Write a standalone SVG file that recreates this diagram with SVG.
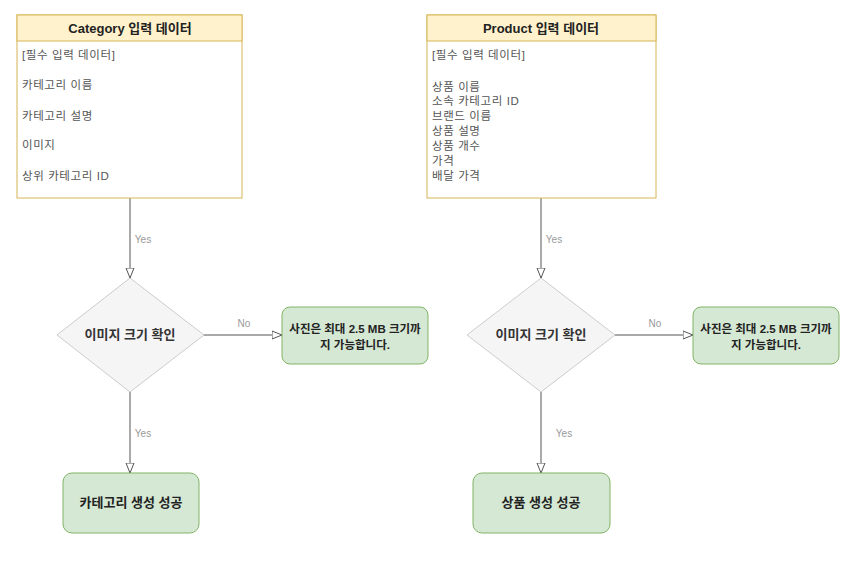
<svg xmlns="http://www.w3.org/2000/svg" width="863" height="582" viewBox="0 0 863 582">
<style>
text{font-family:"Liberation Sans","Noto Sans CJK KR",sans-serif}
.hdr{fill:#fff2cc;stroke:#d6b656;stroke-width:1}
.body{fill:#ffffff;stroke:#d6b656;stroke-width:1}
.ht{font-size:13px;font-weight:bold;fill:#222;text-anchor:middle}
.bt{font-size:11.5px;fill:#555;letter-spacing:0.6px}
.dia{fill:#f5f5f5;stroke:#cccccc;stroke-width:1}
.dt{font-size:13px;font-weight:bold;fill:#333;text-anchor:middle}
.grn{fill:#d5e8d4;stroke:#82b366;stroke-width:1}
.gt{font-size:11.5px;font-weight:bold;fill:#222;text-anchor:middle}
.gt2{font-size:13px;font-weight:bold;fill:#222;text-anchor:middle}
.edge{stroke:#555;stroke-width:1;fill:none;marker-end:url(#arr)}
.lbl{font-size:10px;fill:#999;text-anchor:middle}
</style>
<defs>
<marker id="arr" viewBox="0 0 10 10" refX="10" refY="5" markerWidth="10" markerHeight="10" markerUnits="userSpaceOnUse" orient="auto">
<path d="M0,1 L10,5 L0,9 Z" fill="#fff" stroke="#555" stroke-width="1"/>
</marker>
</defs>
<rect width="863" height="582" fill="#fff"/>
<g id="edges">
<line class="edge" x1="130" y1="198" x2="130" y2="278"/>
<line class="edge" x1="204" y1="335" x2="282" y2="335"/>
<line class="edge" x1="130" y1="392" x2="130" y2="473"/>
<line class="edge" x1="541" y1="198" x2="541" y2="278"/>
<line class="edge" x1="615" y1="335" x2="693" y2="335"/>
<line class="edge" x1="541" y1="392" x2="541" y2="473"/>
<text class="lbl" x="143" y="243">Yes</text>
<text class="lbl" x="244" y="327">No</text>
<text class="lbl" x="143" y="437">Yes</text>
<text class="lbl" x="554" y="243">Yes</text>
<text class="lbl" x="655" y="327">No</text>
<text class="lbl" x="564" y="437">Yes</text>
</g>
<g id="category">
<rect class="body" x="17" y="15" width="225" height="183"/>
<rect class="hdr" x="17" y="15" width="225" height="26"/>
<text class="ht" x="130" y="33">Category 입력 데이터</text>
<text class="bt" x="22" y="59">[필수 입력 데이터]</text>
<text class="bt" x="22" y="89">카테고리 이름</text>
<text class="bt" x="22" y="120">카테고리 설명</text>
<text class="bt" x="22" y="149">이미지</text>
<text class="bt" x="22" y="180">상위 카테고리 ID</text>
</g>
<g id="product">
<rect class="body" x="427" y="15" width="229" height="183"/>
<rect class="hdr" x="427" y="15" width="229" height="26"/>
<text class="ht" x="541" y="33">Product 입력 데이터</text>
<text class="bt" x="432" y="59">[필수 입력 데이터]</text>
<text class="bt" x="432" y="91">상품 이름</text>
<text class="bt" x="432" y="105">소속 카테고리 ID</text>
<text class="bt" x="432" y="120">브랜드 이름</text>
<text class="bt" x="432" y="135">상품 설명</text>
<text class="bt" x="432" y="150">상품 개수</text>
<text class="bt" x="432" y="165">가격</text>
<text class="bt" x="432" y="180">배달 가격</text>
</g>
<g id="cat-check">
<polygon class="dia" points="130,278 204,335 130,392 57,335"/>
<text class="dt" x="130" y="339">이미지 크기 확인</text>
</g>
<g id="prod-check">
<polygon class="dia" points="541,278 615,335 541,392 467,335"/>
<text class="dt" x="541" y="339">이미지 크기 확인</text>
</g>
<g id="cat-no">
<rect class="grn" x="282" y="307" width="146" height="57" rx="8"/>
<text class="gt" x="355" y="333">사진은 최대 2.5 MB 크기까</text>
<text class="gt" x="355" y="349">지 가능합니다.</text>
</g>
<g id="prod-no">
<rect class="grn" x="693" y="307" width="146" height="57" rx="8"/>
<text class="gt" x="766" y="333">사진은 최대 2.5 MB 크기까</text>
<text class="gt" x="766" y="349">지 가능합니다.</text>
</g>
<g id="cat-ok">
<rect class="grn" x="63" y="473" width="136" height="60" rx="9"/>
<text class="gt2" x="131" y="507">카테고리 생성 성공</text>
</g>
<g id="prod-ok">
<rect class="grn" x="473" y="473" width="137" height="60" rx="9"/>
<text class="gt2" x="541" y="507">상품 생성 성공</text>
</g>
</svg>
